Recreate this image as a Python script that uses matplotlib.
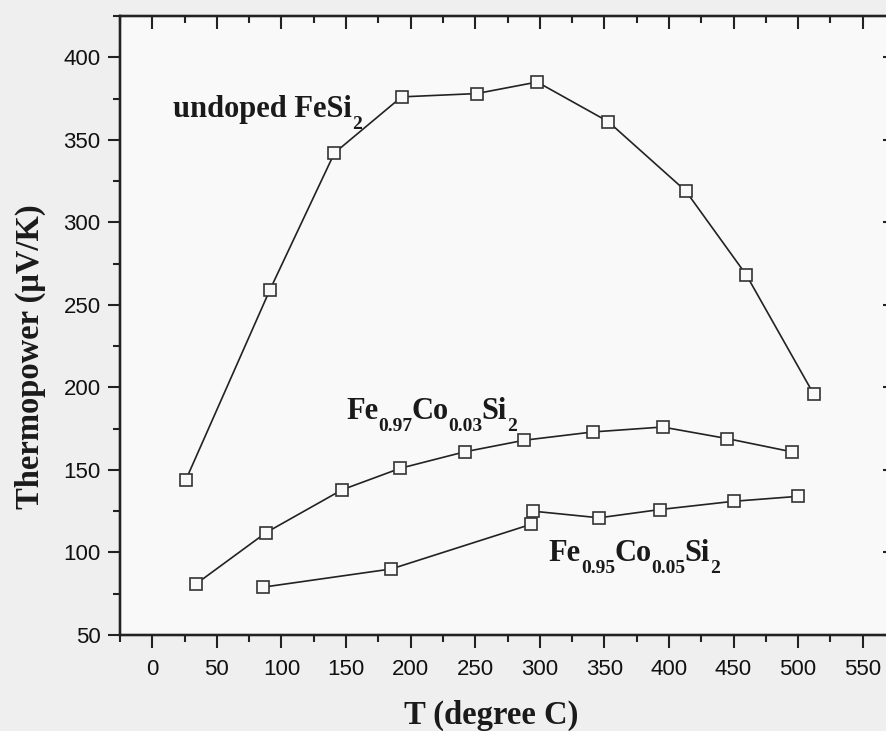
import numpy as np
import matplotlib
matplotlib.use("Agg")
import matplotlib.pyplot as plt
from matplotlib.ticker import MultipleLocator
from matplotlib.transforms import offset_copy

# values
t_undoped = [26, 91, 141, 193, 251, 298, 353, 413, 460, 512]
s_undoped = [144, 259, 342, 376, 378, 385, 361, 319, 268, 196]

t_co03 = [34, 88, 147, 192, 242, 288, 341, 395, 445, 495]
s_co03 = [81, 112, 138, 151, 161, 168, 173, 176, 169, 161]

t_co05 = [86, 185, 293, 295, 346, 393, 450, 500]
s_co05 = [79, 90, 117, 125, 121, 126, 131, 134]

# formula labels: (text, is_subscript) pieces
labels = [[("undoped FeSi", False), ("2", True)],
          [("Fe", False), ("0.97", True), ("Co", False), ("0.03", True),
           ("Si", False), ("2", True)],
          [("Fe", False), ("0.95", True), ("Co", False), ("0.05", True),
           ("Si", False), ("2", True)]]
label_pos = [(16, 364), (150, 181), (307, 95)]

W, H = 886, 731
fig = plt.figure(figsize=(W / 100, H / 100), dpi=100)
fig.patch.set_facecolor('#efefef')
ax = fig.add_axes([120 / W, 96 / H, (895 - 120) / W, (715 - 96) / H])
ax.set_facecolor('#f9f9f9')

line_kw = dict(color='#222222', lw=1.2, marker='s', ms=8, mfc='#f9f9f9',
               mec='#333333', mew=1.2)
ax.plot(t_undoped, s_undoped, **line_kw)
ax.plot(t_co03, s_co03, **line_kw)
ax.plot(t_co05, s_co05, **line_kw)

ax.set_xlim(-25, 575)
ax.set_ylim(50, 425)


def draw_formula(x, y, parts, size=22, sub_size=14, drop=12):
    renderer = fig.canvas.get_renderer()
    dx = 0.0
    for txt, sub in parts:
        tr = offset_copy(ax.transData, fig=fig, x=dx, y=-drop if sub else 0,
                         units='dots')
        t = ax.text(x, y, txt, transform=tr, fontsize=sub_size if sub else size,
                    family='Liberation Serif', weight='bold', color='#1a1a1a',
                    ha='left', va='baseline')
        dx += t.get_window_extent(renderer).width - (1 if sub else 0)


for parts, (x, y) in zip(labels, label_pos):
    draw_formula(x, y, parts)

ax.set_xticks(np.arange(0, 551, 50))
ax.set_yticks(np.arange(50, 401, 50))
ax.xaxis.set_minor_locator(MultipleLocator(25))
ax.yaxis.set_minor_locator(MultipleLocator(25))

for sp in ax.spines.values():
    sp.set_linewidth(1.6)
    sp.set_color('#222222')

ax.tick_params(which='both', color='#222222', width=1.5,
               labelsize=16, labelcolor='#111111')
ax.tick_params(axis='both', which='major', length=9)
ax.tick_params(axis='both', which='minor', length=5)
ax.tick_params(axis='x', which='both', direction='out', pad=8)
ax.tick_params(axis='y', which='both', direction='out', pad=5)
for lab in ax.get_xticklabels() + ax.get_yticklabels():
    lab.set_fontfamily('Liberation Sans')

# inward ticks on top and right, no labels
axt = ax.twiny()
axt.set_xlim(ax.get_xlim())
axt.set_xticks(np.arange(0, 551, 50))
axt.xaxis.set_minor_locator(MultipleLocator(25))
axt.tick_params(which='both', direction='in', color='#222222', width=1.5,
                labeltop=False)
axt.tick_params(which='major', length=9)
axt.tick_params(which='minor', length=5)
axr = ax.twinx()
axr.set_ylim(ax.get_ylim())
axr.set_yticks(np.arange(50, 401, 50))
axr.yaxis.set_minor_locator(MultipleLocator(25))
axr.tick_params(which='both', direction='in', color='#222222', width=1.5,
                labelright=False)
axr.tick_params(which='major', length=9)
axr.tick_params(which='minor', length=5)
for a in (axt, axr):
    for sp in a.spines.values():
        sp.set_linewidth(1.6)
        sp.set_color('#222222')

fig.text(491 / W, 1 - 715 / H, 'T (degree C)', fontsize=23.5,
         family='Liberation Serif', weight='bold', color='#1a1a1a',
         ha='center', va='center')
fig.text(30 / W, 1 - 357 / H, 'Thermopower (\u03bcV/K)', fontsize=23.5,
         family='Liberation Serif', weight='bold', color='#1a1a1a',
         rotation=90, ha='center', va='center')

fig.savefig('out.png', dpi=100, facecolor=fig.get_facecolor())
